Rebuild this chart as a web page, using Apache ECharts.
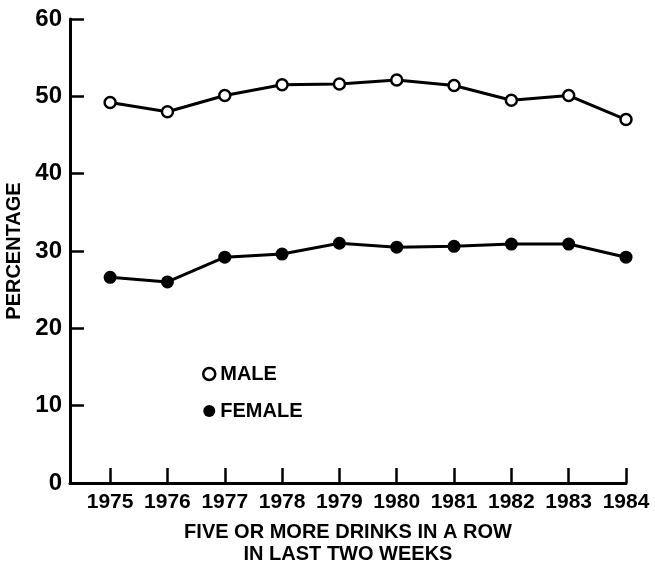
<!DOCTYPE html>
<html>
<head>
<meta charset="utf-8">
<script src="https://cdn.jsdelivr.net/npm/echarts@6/dist/echarts.min.js"></script>
<style>html,body{margin:0;padding:0;background:#fff}#c{width:655px;height:572px}</style>
</head>
<body>
<div id="c"></div>
<script>
const years = [1975, 1976, 1977, 1978, 1979, 1980, 1981, 1982, 1983, 1984];
const male = [49.2, 48.0, 50.1, 51.5, 51.6, 52.1, 51.4, 49.5, 50.1, 47.0];
const female = [26.6, 26.0, 29.2, 29.6, 31.0, 30.5, 30.6, 30.9, 30.9, 29.2];
const yTicks = [0, 10, 20, 30, 40, 50, 60];

const font = 'Liberation Sans, Arial, sans-serif';
const chart = echarts.init(document.getElementById('c'));
chart.setOption({
  backgroundColor: '#fff',
  animation: false,
  grid: { left: 70, right: 29, top: 19, bottom: 89, containLabel: false, outerBoundsMode: 'none' },
  legend: {
    orient: 'vertical', left: 197, top: 359, itemGap: 17,
    itemWidth: 12, itemHeight: 12,
    textStyle: { fontFamily: font, fontWeight: 'bold', fontSize: 20, color: '#000' },
    data: [
      { name: 'MALE', icon: 'circle', itemStyle: { color: '#fff', borderColor: '#000', borderWidth: 2.5 } },
      { name: 'FEMALE', icon: 'circle', itemStyle: { color: '#000' } }
    ]
  },
  xAxis: {
    type: 'value', min: 1974.3, max: 1984,
    name: 'FIVE OR MORE DRINKS IN A ROW\nIN LAST TWO WEEKS',
    nameLocation: 'middle', nameGap: 38,
    nameTextStyle: { fontFamily: font, fontWeight: 'bold', fontSize: 20, color: '#000', lineHeight: 22 },
    axisLine: { show: true, lineStyle: { color: '#000', width: 3 } },
    axisTick: { show: true, inside: true, length: 15, customValues: years, lineStyle: { color: '#000', width: 2.5 } },
    axisLabel: { customValues: years, margin: 9, fontFamily: font, fontWeight: 'bold', fontSize: 21, color: '#000', formatter: v => String(Math.round(v)) },
    splitLine: { show: false }
  },
  yAxis: {
    type: 'value', min: 0, max: 60, interval: 10,
    name: 'PERCENTAGE', nameLocation: 'middle', nameGap: 43, nameRotate: 90,
    nameTextStyle: { fontFamily: font, fontWeight: 'bold', fontSize: 20, color: '#000' },
    axisLine: { show: true, lineStyle: { color: '#000', width: 3 } },
    axisTick: { show: true, inside: true, length: 14, lineStyle: { color: '#000', width: 2.5 } },
    axisLabel: { margin: 8, fontFamily: font, fontWeight: 'bold', fontSize: 24, color: '#000', customValues: yTicks },
    splitLine: { show: false }
  },
  series: [
    {
      name: 'MALE', type: 'line',
      data: years.map((y, i) => [y, male[i]]),
      symbol: 'circle', symbolSize: 11,
      itemStyle: { color: '#fff', borderColor: '#000', borderWidth: 2.5 },
      lineStyle: { color: '#000', width: 3 }
    },
    {
      name: 'FEMALE', type: 'line',
      data: years.map((y, i) => [y, female[i]]),
      symbol: 'circle', symbolSize: 13,
      itemStyle: { color: '#000' },
      lineStyle: { color: '#000', width: 3 }
    }
  ]
});
</script>
</body>
</html>
